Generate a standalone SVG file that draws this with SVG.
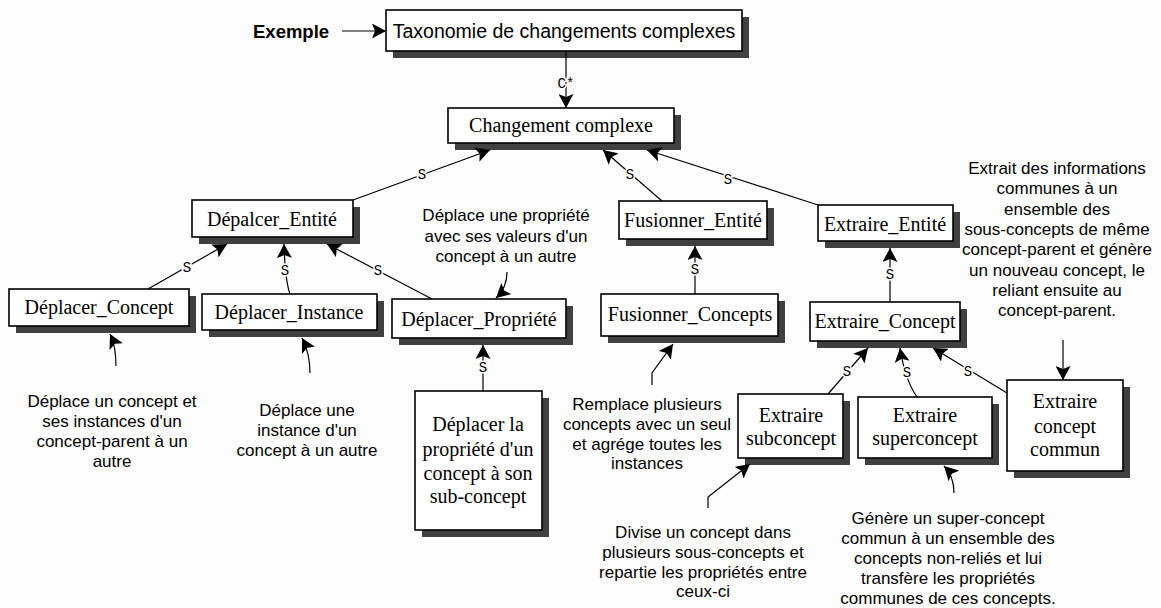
<svg xmlns="http://www.w3.org/2000/svg" width="1161" height="608" viewBox="0 0 1161 608">
<defs>
<marker id="ah" viewBox="0 0 14 15" refX="14" refY="7.5" markerWidth="14" markerHeight="15" markerUnits="userSpaceOnUse" orient="auto">
<path d="M0,0 L14,7.5 L0,15 L3,7.5 z" fill="#000"/>
</marker>
<style>
.box{fill:#fff;stroke:#000;stroke-width:1.6}
.sh{fill:#404040}
.nt{font-family:"Liberation Serif",serif;font-size:20px;fill:#000;text-anchor:middle}
.an{font-family:"Liberation Sans",Arial,sans-serif;font-size:17px;fill:#000;text-anchor:middle}
.ln{fill:none;stroke:#000;stroke-width:1.2}
.lb{font-family:"Liberation Mono",monospace;font-size:14px;fill:#000;text-anchor:middle;stroke:#fdfdfd;stroke-width:3;paint-order:stroke}
</style>
</defs>
<rect width="1161" height="608" fill="#fdfdfd"/>

<g id="exemple">
<text x="253" y="38" font-family="Liberation Sans, Arial, sans-serif" font-size="18.5" font-weight="bold">Exemple</text>
</g>

<g id="n-taxonomie">
<rect class="sh" x="393" y="17" width="356" height="41"/>
<rect class="box" x="386" y="10" width="356" height="41"/>
<text x="564" y="38" font-family="Liberation Sans, Arial, sans-serif" font-size="19.5" text-anchor="middle">Taxonomie de changements complexes</text>
</g>

<g id="n-changement">
<rect class="sh" x="455" y="115" width="226" height="35"/>
<rect class="box" x="448" y="108" width="226" height="35"/>
<text class="nt" x="561" y="132">Changement complexe</text>
</g>

<g id="n-depalcer-entite">
<rect class="sh" x="199" y="207" width="161" height="37"/>
<rect class="box" x="192" y="200" width="161" height="37"/>
<text class="nt" x="272" y="226">Dépalcer_Entité</text>
</g>

<g id="n-fusionner-entite">
<rect class="sh" x="626" y="208" width="148" height="38"/>
<rect class="box" x="619" y="201" width="148" height="38"/>
<text class="nt" x="693" y="227">Fusionner_Entité</text>
</g>

<g id="n-extraire-entite">
<rect class="sh" x="825" y="212" width="135" height="36"/>
<rect class="box" x="818" y="205" width="135" height="36"/>
<text class="nt" x="885" y="231">Extraire_Entité</text>
</g>

<g id="n-deplacer-concept">
<rect class="sh" x="16" y="296" width="180" height="37"/>
<rect class="box" x="9" y="289" width="180" height="37"/>
<text class="nt" x="99" y="314">Déplacer_Concept</text>
</g>

<g id="n-deplacer-instance">
<rect class="sh" x="209" y="301" width="175" height="36"/>
<rect class="box" x="202" y="294" width="175" height="36"/>
<text class="nt" x="289" y="319">Déplacer_Instance</text>
</g>

<g id="n-deplacer-propriete">
<rect class="sh" x="399" y="306" width="174" height="39"/>
<rect class="box" x="392" y="299" width="174" height="39"/>
<text class="nt" x="479" y="326">Déplacer_Propriété</text>
</g>

<g id="n-fusionner-concepts">
<rect class="sh" x="608" y="301" width="177" height="42"/>
<rect class="box" x="601" y="294" width="177" height="42"/>
<text class="nt" x="690" y="321">Fusionner_Concepts</text>
</g>

<g id="n-extraire-concept">
<rect class="sh" x="817" y="309" width="150" height="39"/>
<rect class="box" x="810" y="302" width="150" height="39"/>
<text class="nt" x="885" y="328">Extraire_Concept</text>
</g>

<g id="n-deplacer-la-propriete">
<rect class="sh" x="422" y="398" width="127" height="139"/>
<rect class="box" x="415" y="391" width="127" height="139"/>
<text class="nt" x="478" y="431">Déplacer la</text>
<text class="nt" x="478" y="456">propriété d'un</text>
<text class="nt" x="478" y="480">concept à son</text>
<text class="nt" x="478" y="503">sub-concept</text>
</g>

<g id="n-extraire-subconcept">
<rect class="sh" x="745" y="401" width="105" height="64"/>
<rect class="box" x="738" y="394" width="105" height="64"/>
<text class="nt" x="791" y="422">Extraire</text>
<text class="nt" x="791" y="445">subconcept</text>
</g>

<g id="n-extraire-superconcept">
<rect class="sh" x="865" y="404" width="134" height="61"/>
<rect class="box" x="858" y="397" width="134" height="61"/>
<text class="nt" x="925" y="422">Extraire</text>
<text class="nt" x="925" y="445">superconcept</text>
</g>

<g id="n-extraire-commun">
<rect class="sh" x="1014" y="387" width="116" height="91"/>
<rect class="box" x="1007" y="380" width="116" height="91"/>
<text class="nt" x="1065" y="408">Extraire</text>
<text class="nt" x="1065" y="433">concept</text>
<text class="nt" x="1065" y="456">commun</text>
</g>

<g id="connectors">
<line class="ln" x1="342" y1="31" x2="386" y2="31" marker-end="url(#ah)"/>
<line class="ln" x1="566" y1="51" x2="566" y2="108" marker-end="url(#ah)"/>
<text class="lb" x="566" y="88">C*</text>

<line class="ln" x1="353" y1="200" x2="490" y2="150" marker-end="url(#ah)"/>
<text class="lb" x="422" y="179">S</text>
<line class="ln" x1="662" y1="201" x2="603" y2="150" marker-end="url(#ah)"/>
<text class="lb" x="630" y="179">S</text>
<line class="ln" x1="818" y1="205" x2="647" y2="150" marker-end="url(#ah)"/>
<text class="lb" x="728" y="184">S</text>

<line class="ln" x1="148" y1="289" x2="227" y2="244" marker-end="url(#ah)"/>
<text class="lb" x="187" y="272">S</text>
<path class="ln" d="M290,294 Q285,280 284,244" marker-end="url(#ah)"/>
<text class="lb" x="285" y="275">S</text>
<line class="ln" x1="432" y1="299" x2="327" y2="244" marker-end="url(#ah)"/>
<text class="lb" x="378" y="275">S</text>

<line class="ln" x1="695" y1="294" x2="695" y2="246" marker-end="url(#ah)"/>
<text class="lb" x="695" y="274">S</text>
<line class="ln" x1="483" y1="391" x2="483" y2="345" marker-end="url(#ah)"/>
<text class="lb" x="483" y="372">S</text>
<line class="ln" x1="890" y1="302" x2="890" y2="248" marker-end="url(#ah)"/>
<text class="lb" x="890" y="279">S</text>

<line class="ln" x1="828" y1="394" x2="868" y2="348" marker-end="url(#ah)"/>
<text class="lb" x="847" y="376">S</text>
<path class="ln" d="M917,397 Q905,380 900,348" marker-end="url(#ah)"/>
<text class="lb" x="907" y="377">S</text>
<line class="ln" x1="1007" y1="393" x2="933" y2="348" marker-end="url(#ah)"/>
<text class="lb" x="968" y="376">S</text>

<path class="ln" d="M116,366 Q116,346 110,334" marker-end="url(#ah)"/>
<path class="ln" d="M310,373 Q310,353 302,338" marker-end="url(#ah)"/>
<path class="ln" d="M507,272 Q507,288 496,298" marker-end="url(#ah)"/>
<path class="ln" d="M652,385 L652,373 L673,344" marker-end="url(#ah)"/>
<path class="ln" d="M708,508 L708,497 L750,464" marker-end="url(#ah)"/>
<path class="ln" d="M954,493 Q954,476 944,466" marker-end="url(#ah)"/>
<line class="ln" x1="1063" y1="340" x2="1063" y2="380" marker-end="url(#ah)"/>
</g>

<g id="annotations">
<text class="an"><tspan x="112" y="407">Déplace un concept et</tspan><tspan x="112" y="427">ses instances d'un</tspan><tspan x="112" y="447">concept-parent à un</tspan><tspan x="112" y="467">autre</tspan></text>
<text class="an"><tspan x="307" y="416">Déplace une</tspan><tspan x="307" y="436">instance d'un</tspan><tspan x="307" y="456">concept à un autre</tspan></text>
<text class="an"><tspan x="506" y="221">Déplace une propriété</tspan><tspan x="506" y="241.5">avec ses valeurs d'un</tspan><tspan x="506" y="262">concept à un autre</tspan></text>
<text class="an"><tspan x="647" y="410">Remplace plusieurs</tspan><tspan x="647" y="430">concepts avec un seul</tspan><tspan x="647" y="450">et agrége toutes les</tspan><tspan x="647" y="469">instances</tspan></text>
<text class="an"><tspan x="703" y="538">Divise un concept dans</tspan><tspan x="703" y="558">plusieurs sous-concepts et</tspan><tspan x="703" y="578">repartie les propriétés entre</tspan><tspan x="703" y="597">ceux-ci</tspan></text>
<text class="an"><tspan x="948" y="524">Génère un super-concept</tspan><tspan x="948" y="544">commun à un ensemble des</tspan><tspan x="948" y="564">concepts non-reliés et lui</tspan><tspan x="948" y="584">transfère les propriétés</tspan><tspan x="948" y="604">communes de ces concepts.</tspan></text>
<text class="an"><tspan x="1057" y="174">Extrait des informations</tspan><tspan x="1057" y="194">communes à un</tspan><tspan x="1057" y="215">ensemble des</tspan><tspan x="1057" y="235">sous-concepts de même</tspan><tspan x="1057" y="255">concept-parent et génère</tspan><tspan x="1057" y="276">un nouveau concept, le</tspan><tspan x="1057" y="296">reliant ensuite au</tspan><tspan x="1057" y="316">concept-parent.</tspan></text>
</g>
</svg>
